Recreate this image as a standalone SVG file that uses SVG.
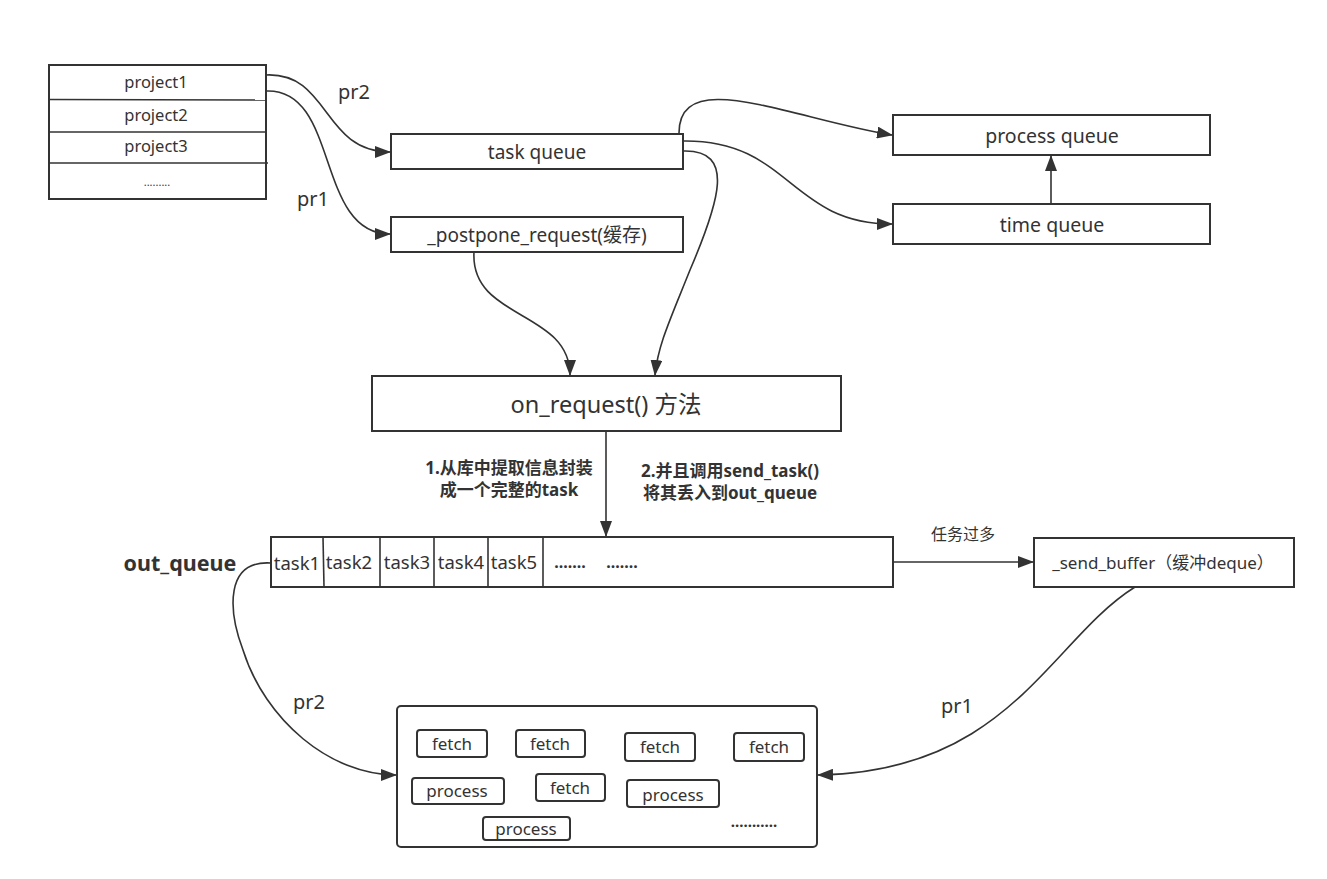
<svg xmlns="http://www.w3.org/2000/svg" width="1327" height="879" viewBox="0 0 1327 879">
<style>
.box{fill:#fff;stroke:#333;stroke-width:2}
.ln{fill:none;stroke:#333;stroke-width:1.6}
.t{font-family:"Noto Sans","Noto Sans CJK SC",sans-serif;fill:#333;text-anchor:middle;dominant-baseline:central}
.b{font-weight:bold}
</style>
<defs>
<marker id="ah" markerWidth="16" markerHeight="12" refX="15" refY="6" orient="auto" markerUnits="userSpaceOnUse">
<path d="M0,0 L16,6 L0,12 Z" fill="#333"/>
</marker>
</defs>
<rect width="1327" height="879" fill="#fff"/>

<g id="projects">
<rect class="box" x="49" y="65" width="217" height="134"/>
<line class="ln" x1="49" y1="99.5" x2="266" y2="100"/>
<line class="ln" x1="49" y1="132" x2="266" y2="132"/>
<line class="ln" x1="49" y1="163" x2="268" y2="163"/>
<text class="t" x="156" y="81" font-size="16.5">project1</text>
<text class="t" x="156" y="114" font-size="16.5">project2</text>
<text class="t" x="156" y="145" font-size="16.5">project3</text>
<text class="t" x="157" y="181" font-size="11">.........</text>
</g>

<g id="task_queue">
<rect class="box" x="391" y="134" width="292" height="35"/>
<text class="t" x="537" y="152" font-size="19">task queue</text>
</g>
<g id="postpone_request">
<rect class="box" x="391" y="217" width="292" height="35"/>
<text class="t" x="537" y="235" font-size="19">_postpone_request(缓存)</text>
</g>
<g id="process_queue">
<rect class="box" x="893" y="115" width="317" height="40"/>
<text class="t" x="1052" y="135" font-size="19.5">process queue</text>
</g>
<g id="time_queue">
<rect class="box" x="893" y="204" width="317" height="40"/>
<text class="t" x="1052" y="224" font-size="19.5">time queue</text>
</g>
<g id="on_request">
<rect class="box" x="372" y="376" width="469" height="55"/>
<text class="t" x="606" y="404" font-size="23.5">on_request() 方法</text>
</g>
<g id="out_queue">
<text class="t b" x="180" y="562" font-size="21.5">out_queue</text>
<rect class="box" x="271" y="537" width="622" height="50"/>
<line class="ln" x1="323" y1="537" x2="324" y2="587"/>
<line class="ln" x1="380" y1="537" x2="380" y2="587"/>
<line class="ln" x1="434" y1="537" x2="434" y2="587"/>
<line class="ln" x1="488" y1="537" x2="488" y2="587"/>
<line class="ln" x1="543" y1="537" x2="543" y2="587"/>
<text class="t" x="297" y="562" font-size="18.5">task1</text>
<text class="t" x="349" y="561" font-size="18.5">task2</text>
<text class="t" x="407" y="561" font-size="18.5">task3</text>
<text class="t" x="461" y="561" font-size="18.5">task4</text>
<text class="t" x="514" y="561" font-size="18.5">task5</text>
<text class="t b" x="570" y="562" font-size="16">.......</text>
<text class="t b" x="622" y="562" font-size="16">.......</text>
</g>
<g id="send_buffer">
<rect class="box" x="1034" y="538" width="260" height="49"/>
<text class="t" x="1163" y="562" font-size="17">_send_buffer（缓冲deque）</text>
</g>
<g id="workers">
<rect class="box" x="397" y="706" width="420" height="141" rx="4"/>
<rect class="box" x="417" y="730" width="70" height="27" rx="3"/>
<text class="t" x="452" y="743" font-size="17">fetch</text>
<rect class="box" x="516" y="730" width="69" height="27" rx="3"/>
<text class="t" x="550" y="743" font-size="17">fetch</text>
<rect class="box" x="625" y="733" width="70" height="28" rx="3"/>
<text class="t" x="660" y="746" font-size="17">fetch</text>
<rect class="box" x="734" y="733" width="70" height="28" rx="3"/>
<text class="t" x="769" y="746" font-size="17">fetch</text>
<rect class="box" x="412" y="778" width="92" height="26" rx="3"/>
<text class="t" x="457" y="790" font-size="17">process</text>
<rect class="box" x="536" y="774" width="69" height="27" rx="3"/>
<text class="t" x="570" y="787" font-size="17">fetch</text>
<rect class="box" x="627" y="780" width="92" height="27" rx="3"/>
<text class="t" x="673" y="794" font-size="17">process</text>
<rect class="box" x="483" y="817" width="87" height="23" rx="3"/>
<text class="t" x="526" y="828" font-size="17">process</text>
<text class="t b" x="754" y="821" font-size="15">...........</text>
</g>

<g id="connectors">
<path class="ln" d="M266,75 C330,72 322,152 390,152" marker-end="url(#ah)"/>
<path class="ln" d="M266,91 C340,88 315,234 390,234" marker-end="url(#ah)"/>
<path class="ln" d="M679,134 C678,65 790,118 892,135" marker-end="url(#ah)"/>
<path class="ln" d="M684,141 C790,140 790,224 892,224" marker-end="url(#ah)"/>
<path class="ln" d="M684,151 C735,150 720,200 690,270 C670,320 658,345 655,375" marker-end="url(#ah)"/>
<path class="ln" d="M474,252 C470,320 570,310 570,375" marker-end="url(#ah)"/>
<line class="ln" x1="1051" y1="204" x2="1051" y2="156" marker-end="url(#ah)"/>
<line class="ln" x1="606" y1="431" x2="606" y2="536" marker-end="url(#ah)"/>
<line class="ln" x1="893" y1="562" x2="1033" y2="562" marker-end="url(#ah)"/>
<path class="ln" d="M271,563 C225,560 228,610 243,650 C265,720 330,775 396,775" marker-end="url(#ah)"/>
<path class="ln" d="M1135,587 C1050,640 1010,772 818,775" marker-end="url(#ah)"/>
<text class="t" x="354" y="91" font-size="20">pr2</text>
<text class="t" x="313" y="198" font-size="20">pr1</text>
<text class="t b" x="509" y="467" font-size="17">1.从库中提取信息封装</text>
<text class="t b" x="509" y="489" font-size="17">成一个完整的task</text>
<text class="t b" x="730" y="470" font-size="17">2.并且调用send_task()</text>
<text class="t b" x="730" y="492" font-size="17">将其丢入到out_queue</text>
<text class="t" x="963" y="534" font-size="16">任务过多</text>
<text class="t" x="309" y="701" font-size="20">pr2</text>
<text class="t" x="957" y="705" font-size="20">pr1</text>
</g>
</svg>
